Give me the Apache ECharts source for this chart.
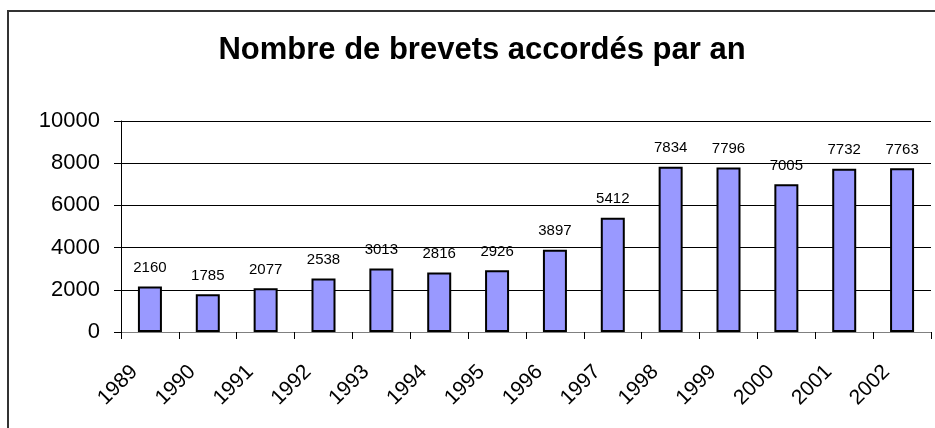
<!DOCTYPE html>
<html>
<head>
<meta charset="utf-8">
<title>Nombre de brevets accordés par an</title>
<script src="https://cdn.jsdelivr.net/npm/echarts@6/dist/echarts.min.js"></script>
<style>
  html, body { margin : 0; padding : 0; background : #fff; }
  #chart { width : 935px; height : 428px; }
</style>
</head>
<body>
<div id="chart"></div>
<script>
// ------------------------------ BEGIN DATA ---------------------------------
var chartTitle = 'Nombre de brevets accordés par an';
var years = ['1989', '1990', '1991', '1992', '1993', '1994', '1995',
             '1996', '1997', '1998', '1999', '2000', '2001', '2002'];
var brevets = [2160, 1785, 2077, 2538, 3013, 2816, 2926,
               3897, 5412, 7834, 7796, 7005, 7732, 7763];
var yTicks = [0, 2000, 4000, 6000, 8000, 10000];
// ------------------------------- END DATA ----------------------------------

var brevetsChart = (function () {
  var
    font = '"Liberation Sans", Arial, sans-serif',
    renderChart, initModule
  ;

  // Begin DOM method /renderChart/
  renderChart = function (dom) {
    var myChart = echarts.init(dom, null, { renderer : 'canvas' });

    var option = {
      animation : false,
      backgroundColor : '#fff',
      title : {
        text : chartTitle,
        left : 477,
        top  : 30,
        textAlign : 'center',
        textStyle : {
          fontFamily : font,
          fontSize   : 31,
          fontWeight : 'bold',
          color      : '#000'
        }
      },
      // cadre autour du graphique (coupé en bas et à droite)
      graphic : [
        {
          type  : 'rect',
          shape : { x : 8, y : 11, width : 960, height : 460 },
          style : { fill : 'none', stroke : '#333', lineWidth : 2 },
          silent : true
        }
      ],
      grid : { left : 121, right : 4, top : 121, bottom : 96 },
      xAxis : {
        type : 'category',
        data : years,
        boundaryGap : true,
        axisLine  : { lineStyle : { color : '#808080', width : 1 } },
        axisTick  : { show : true, length : 7, lineStyle : { color : '#000' } },
        axisLabel : {
          rotate     : 45,
          margin     : 21,
          padding    : [0, 22, 0, 0],
          interval   : 0,
          fontFamily : font,
          fontSize   : 21,
          color      : '#000'
        }
      },
      yAxis : {
        type : 'value',
        min  : yTicks[0],
        max  : yTicks[yTicks.length - 1],
        interval : yTicks[1] - yTicks[0],
        axisLine  : { show : true, lineStyle : { color : '#000', width : 1 } },
        axisTick  : { show : true, length : 7, lineStyle : { color : '#000' } },
        splitLine : { show : true, lineStyle : { color : '#000', width : 1 } },
        axisLabel : {
          margin     : 21,
          fontFamily : font,
          fontSize   : 22,
          color      : '#000',
          formatter  : function (v) { return String(v); }
        }
      },
      series : [
        {
          name : 'Brevets',
          type : 'bar',
          data : brevets,
          barWidth : 24,
          itemStyle : {
            color : '#9999ff',
            borderColor : '#000',
            borderWidth : 2
          },
          label : {
            show : true,
            position : 'top',
            distance : 11,
            fontFamily : font,
            fontSize : 15,
            color : '#000'
          }
        }
      ]
    };

    myChart.setOption(option);
  };
  // End DOM method /renderChart/

  initModule = function () {
    renderChart(document.getElementById('chart'));
  };

  return { initModule : initModule };
}());

brevetsChart.initModule();
</script>
</body>
</html>
